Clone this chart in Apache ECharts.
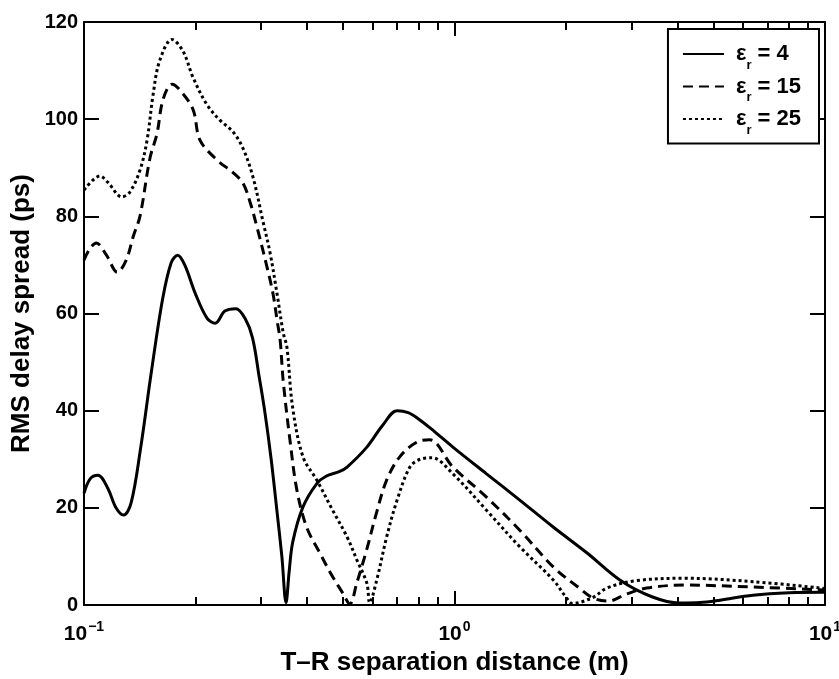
<!DOCTYPE html>
<html>
<head>
<meta charset="utf-8">
<script src="https://cdn.jsdelivr.net/npm/echarts@6/dist/echarts.min.js"></script>
<style>
  html, body { margin: 0; padding: 0; background: #fff; }
  #chart { width: 839px; height: 679px; }
</style>
</head>
<body>
<div id="chart"></div>
<script>
// permittivity values for the three curves
const permittivity = [4, 15, 25];

// T-R separation (m) and RMS delay spread (ps)
const distSolid = [0.100, 0.104, 0.109, 0.116, 0.122, 0.128, 0.134, 0.142, 0.152, 0.163, 0.172, 0.179, 0.187, 0.200, 0.215, 0.226, 0.240, 0.257, 0.272, 0.285, 0.297, 0.308, 0.320, 0.331, 0.342, 0.351, 0.358, 0.366, 0.390, 0.425, 0.450, 0.490, 0.513, 0.580, 0.640, 0.700, 0.750, 0.800, 0.880, 0.990, 1.22, 1.50, 1.85, 2.28, 2.80, 3.41, 4.05, 4.60, 5.21, 6.39, 8.00, 10.0];
const rmsSolid  = [23, 26, 26.7, 24, 20, 18.5, 21, 32, 48, 63, 70.5, 72, 70, 64, 59, 58, 60.5, 61, 59, 55, 47, 39.5, 30, 20, 10, 0.5, 7, 13, 20.2, 25, 26.5, 27.5, 28.4, 32.5, 37, 40, 39.6, 38.3, 35.8, 32.5, 27, 21.6, 16, 10.7, 5.1, 1.7, 0.4, 0.5, 1, 2, 2.5, 2.6];

const distDashed = [0.100, 0.104, 0.108, 0.115, 0.123, 0.130, 0.136, 0.1416, 0.1507, 0.1574, 0.1634, 0.1728, 0.1815, 0.1969, 0.2056, 0.2286, 0.2524, 0.2686, 0.2805, 0.293, 0.312, 0.3238, 0.332, 0.3384, 0.345, 0.3596, 0.3754, 0.399, 0.433, 0.469, 0.499, 0.5216, 0.5447, 0.579, 0.616, 0.656, 0.7115, 0.790, 0.857, 0.990, 1.22, 1.50, 1.85, 2.17, 2.37, 2.60, 2.90, 3.30, 4.20, 6.40, 10.0];
const rmsDashed  = [71, 73.5, 74.5, 72, 68.5, 71, 76, 80, 92, 97, 104, 107.2, 106, 102, 95.7, 91.6, 89, 86.8, 83, 77.8, 69.5, 64, 58.6, 54.5, 46, 34, 23.7, 16, 10.7, 5.8, 2.5, 0.2, 4.5, 11.3, 19, 25.7, 30.5, 33.5, 34, 28.4, 22.2, 15.4, 7.8, 3.5, 1.4, 0.8, 2.2, 3.5, 4.1, 3.7, 3.1];

const distDotted = [0.100, 0.1105, 0.116, 0.1266, 0.133, 0.1416, 0.148, 0.1536, 0.160, 0.1728, 0.185, 0.1969, 0.2146, 0.2327, 0.2524, 0.2686, 0.286, 0.304, 0.318, 0.332, 0.345, 0.353, 0.3655, 0.390, 0.425, 0.469, 0.513, 0.545, 0.580, 0.5903, 0.616, 0.656, 0.700, 0.758, 0.808, 0.870, 0.990, 1.22, 1.50, 1.85, 2.00, 2.08, 2.37, 2.58, 3.08, 4.20, 6.40, 10.0];
const rmsDotted  = [85.4, 88.3, 87, 84, 85, 89.5, 95.7, 105, 112, 116.4, 114, 108.6, 103, 99.8, 97.4, 94, 88, 79, 72.4, 64, 56, 53, 40.8, 30.5, 25.7, 19.5, 14, 9.3, 4.5, 0.5, 5, 14, 21.6, 28.4, 30, 30.3, 27, 19.5, 12, 5.1, 1.6, 0.3, 1.6, 3.5, 5, 5.5, 4.8, 3.4];

const yTicks = [0, 20, 40, 60, 80, 100, 120];
const minorTicks = [0.2, 0.3, 0.4, 0.5, 0.6, 0.7, 0.8, 0.9, 2, 3, 4, 5, 6, 7, 8, 9];

const FONT = "'Liberation Sans', Arial, Helvetica, sans-serif";
const zip = (xs, ys) => xs.map((x, i) => [x, ys[i]]);
const seriesName = (v) => 'εr = ' + v;

const chart = echarts.init(document.getElementById('chart'));

const axisLine = { show: true, lineStyle: { color: '#000', width: 2 } };
const tickStyle = { color: '#000', width: 2 };

function logAxis(position, major, showLabel) {
  return {
    type: 'log',
    logBase: 10,
    min: 0.1,
    max: 10,
    position: position,
    axisLine: major ? axisLine : { show: false },
    splitLine: { show: false },
    axisTick: major
      ? { show: true, inside: true, length: 14, lineStyle: tickStyle }
      : { show: true, inside: true, length: 8, lineStyle: tickStyle, customValues: minorTicks },
    axisLabel: showLabel ? {
      show: true,
      margin: 15,
      formatter: function (v) {
        const p = Math.round(Math.log10(v));
        return '{b|10}{s|' + (p < 0 ? '−' + (-p) : p) + '}';
      },
      rich: {
        b: { fontFamily: FONT, fontWeight: 'bold', fontSize: 21, color: '#000' },
        s: { fontFamily: FONT, fontWeight: 'bold', fontSize: 14, color: '#000', padding: [0, 0, 14, 1] }
      }
    } : { show: false }
  };
}

function valAxis(position, showLabel) {
  return {
    type: 'value',
    min: 0,
    max: 120,
    interval: 20,
    position: position,
    axisLine: axisLine,
    splitLine: { show: false },
    axisTick: { show: true, inside: true, length: 15, lineStyle: tickStyle },
    axisLabel: showLabel ? {
      show: true, margin: 6, color: '#000',
      fontFamily: FONT, fontWeight: 'bold', fontSize: 20,
      customValues: yTicks
    } : { show: false }
  };
}

const xMain = logAxis('bottom', true, true);
xMain.name = 'T–R separation distance (m)';
xMain.nameLocation = 'middle';
xMain.nameGap = 43;
xMain.nameTextStyle = { fontFamily: FONT, fontWeight: 'bold', fontSize: 26, color: '#000' };

const yMain = valAxis('left', true);
yMain.name = 'RMS delay spread (ps)';
yMain.nameLocation = 'middle';
yMain.nameGap = 49;
yMain.nameMoveOverlap = false;
yMain.nameTextStyle = { fontFamily: FONT, fontWeight: 'bold', fontSize: 26, color: '#000' };

const styles = [
  { type: 'solid' },
  { type: [10, 6] },
  { type: [3, 3] }
];
const dataSets = [zip(distSolid, rmsSolid), zip(distDashed, rmsDashed), zip(distDotted, rmsDotted)];

const option = {
  backgroundColor: '#fff',
  animation: false,
  grid: { left: 84, right: 14, top: 22, bottom: 74, containLabel: false, outerBoundsMode: 'none' },
  legend: {
    orient: 'vertical',
    right: 20,
    top: 29,
    backgroundColor: '#fff',
    borderColor: '#000',
    borderWidth: 2,
    borderRadius: 0,
    padding: [14, 18, 7, 14],
    itemWidth: 41,
    itemHeight: 14,
    itemGap: 4,
    itemStyle: { opacity: 0 },
    data: permittivity.map(seriesName),
    formatter: function (name) {
      return '{e|ε}{s|r}{t| = ' + name.split('= ')[1] + '}';
    },
    textStyle: {
      color: '#000',
      rich: {
        e: { fontFamily: FONT, fontWeight: 'bold', fontSize: 22, color: '#000', padding: [0, 0, 0, 7] },
        s: { fontFamily: FONT, fontWeight: 'bold', fontSize: 13, color: '#000', padding: [22, 0, 0, 0] },
        t: { fontFamily: FONT, fontWeight: 'bold', fontSize: 22, color: '#000' }
      }
    }
  },
  xAxis: [
    xMain,
    logAxis('bottom', false, false),
    logAxis('top', true, false),
    logAxis('top', false, false)
  ],
  yAxis: [
    yMain,
    valAxis('right', false)
  ],
  series: permittivity.map(function (v, i) {
    return {
      name: seriesName(v),
      type: 'line',
      xAxisIndex: 0,
      yAxisIndex: 0,
      data: dataSets[i],
      symbol: 'none',
      smooth: 0.35,
      lineStyle: { color: '#000', width: 3, type: styles[i].type, cap: 'butt' },
      itemStyle: { color: '#000' }
    };
  })
};

chart.setOption(option);
</script>
</body>
</html>
